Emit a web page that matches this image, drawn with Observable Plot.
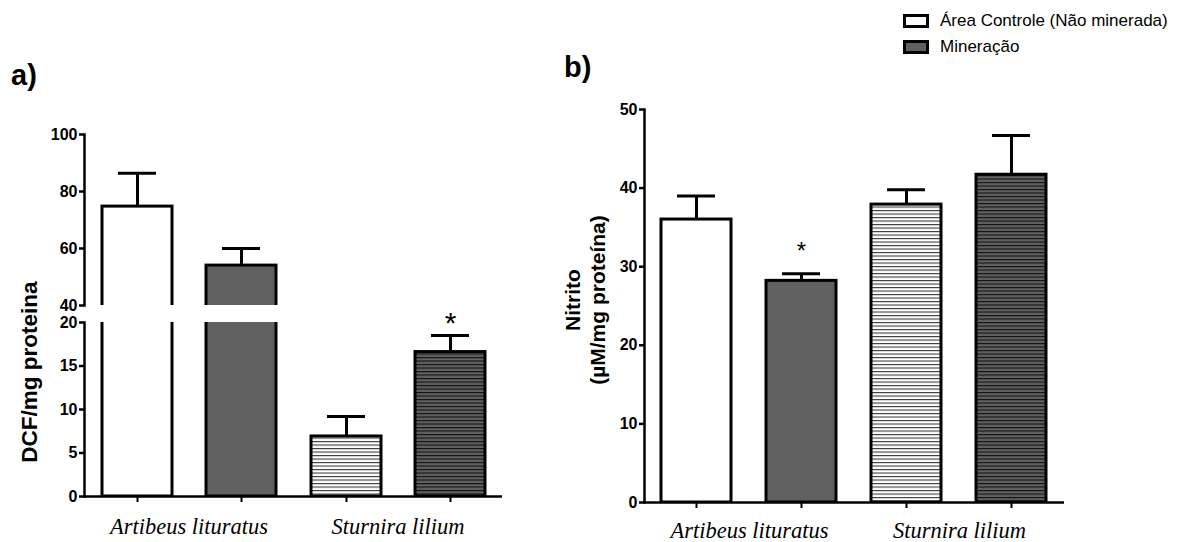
<!DOCTYPE html>
<html><head><meta charset="utf-8">
<script src="https://cdn.jsdelivr.net/npm/d3@7"></script>
<script src="https://cdn.jsdelivr.net/npm/@observablehq/plot@0.6"></script>
<style>
body{margin:0;background:#fff;}
#wrap{position:relative;width:1185px;height:542px;overflow:hidden;font-family:"Liberation Sans",Arial,sans-serif;color:#000;}
#wrap > svg{position:absolute;left:0;top:0;}
.lbl{position:absolute;white-space:nowrap;line-height:1;font-weight:bold;}
.ytitle{position:absolute;white-space:nowrap;line-height:1;font-weight:bold;font-size:21px;transform:translate(-50%,-50%) rotate(-90deg);}
.leg{position:absolute;white-space:nowrap;font-size:17px;line-height:1;display:flex;align-items:center;}
.leg .box{display:inline-block;width:20px;height:8px;border:3px solid #000;margin-right:11px;}
</style></head><body>
<div id="wrap">
<svg width="0" height="0" style="position:absolute">
<defs>
<pattern id="hatchWhite" patternUnits="userSpaceOnUse" width="10" height="3.5">
<rect width="10" height="3.5" fill="#ffffff"/><rect y="0" width="10" height="1.1" fill="#3a3a3a"/>
</pattern>
<pattern id="hatchGray" patternUnits="userSpaceOnUse" width="10" height="3.5">
<rect width="10" height="3.5" fill="#606060"/><rect y="0" width="10" height="1.1" fill="#111111"/>
</pattern>
</defs></svg>
</div>
<script>
// ---- data ----
const species = ["Artibeus lituratus", "Sturnira lilium"];
const treatments = ["Área Controle (Não minerada)", "Mineração"];
const dcfMean = [74.7, 54.0, 6.9, 16.6];
const dcfSem  = [11.7, 6.0, 2.3, 1.9];
const dcfSig  = ["", "", "", "*"];
const nitMean = [36.0, 28.2, 37.9, 41.7];
const nitSem  = [3.0, 0.9, 1.9, 5.0];
const nitSig  = ["", "*", "", ""];
const dcfUpperTicks = [40, 60, 80, 100];
const dcfLowerTicks = [0, 5, 10, 15, 20];
const nitTicks = [0, 10, 20, 30, 40, 50];

// ---- layout / style ----
const W = 1185, H = 542;
const fillRange = ["#ffffff", "#606060", "url(#hatchWhite)", "url(#hatchGray)"];
const sans = "'Liberation Sans', Arial, sans-serif";
const serif = "'Liberation Serif', 'Times New Roman', serif";

function rows(mean, sem, sig) {
  return mean.map((m, i) => ({
    species: species[Math.floor(i / 2)], treatment: treatments[i % 2],
    key: i, mean: m, top: m + sem[i], sig: sig[i]
  }));
}
const dcf = rows(dcfMean, dcfSem, dcfSig);
const nit = rows(nitMean, nitSem, nitSig);

function base(box, ydomain) {
  return {
    width: W, height: H,
    marginLeft: box.left, marginRight: W - box.right, marginTop: box.top, marginBottom: H - box.bottom,
    style: {background: "transparent", overflow: "visible", fontFamily: sans, color: "#000"},
    fx: {domain: species, padding: 0, axis: null},
    x: {domain: treatments, paddingInner: 0.33, paddingOuter: 0.165, axis: null},
    y: {domain: ydomain, axis: null},
    color: {type: "ordinal", domain: [0, 1, 2, 3], range: fillRange}
  };
}
const yAxis = (ticks) => [
  Plot.frame({anchor: "left", facetAnchor: "left", stroke: "#000", strokeWidth: 2.5}),
  Plot.axisY({ticks, tickSize: 5, tickPadding: 2, label: null,
    fontSize: 16, fontWeight: "bold", strokeWidth: 2.5, fill: "#000"})
];
const errMarks = (data, filter) => [
  Plot.ruleX(data, {filter, fx: "species", x: "treatment", y1: "mean", y2: "top", stroke: "#000", strokeWidth: 3}),
  Plot.tickY(data, {filter, fx: "species", x: "treatment", y: "top", stroke: "#000", strokeWidth: 3, insetLeft: 16, insetRight: 16})
];

const wrap = document.getElementById("wrap");

// Panel a – upper segment (40–100)
const aUp = [40, 100];
wrap.append(Plot.plot({
  ...base({left: 84, right: 502, top: 134, bottom: 305}, aUp),
  marks: [
    Plot.barY(dcf, {filter: d => d.mean > aUp[0], fx: "species", x: "treatment", y1: () => aUp[0] - 10, y2: "mean",
      fill: "key", stroke: "#000", strokeWidth: 3, clip: true}),
    ...errMarks(dcf, d => d.mean > aUp[0]),
    ...yAxis(dcfUpperTicks)
  ]
}));

// Panel a – lower segment (0–20)
const aLo = [0, 20];
wrap.append(Plot.plot({
  ...base({left: 84, right: 502, top: 322, bottom: 496}, aLo),
  marks: [
    Plot.barY(dcf, {fx: "species", x: "treatment", y1: 0, y2: d => Math.min(d.mean, aLo[1] + 5),
      fill: "key", stroke: "#000", strokeWidth: 3, clip: true}),
    ...errMarks(dcf, d => d.top <= aLo[1]),
    Plot.text(dcf, {filter: d => d.sig, fx: "species", x: "treatment", y: "top", text: "sig",
      dy: -12, fontSize: 30, lineAnchor: "middle", fill: "#000"}),
    ...yAxis(dcfLowerTicks),
    Plot.ruleY([0], {stroke: "#000", strokeWidth: 2.5}),
    Plot.axisX({tickSize: 6, tickFormat: () => "", label: null, strokeWidth: 2}),
    Plot.axisFx({anchor: "bottom", tickSize: 0, tickPadding: 22, label: null,
      fontFamily: serif, fontStyle: "italic", fontSize: 22.5, fill: "#000"})
  ]
}));

// Panel b (0–50)
wrap.append(Plot.plot({
  ...base({left: 643, right: 1064, top: 109, bottom: 502}, [0, 50]),
  marks: [
    Plot.barY(nit, {fx: "species", x: "treatment", y1: 0, y2: "mean",
      fill: "key", stroke: "#000", strokeWidth: 3, clip: true}),
    ...errMarks(nit, () => true),
    Plot.text(nit, {filter: d => d.sig, fx: "species", x: "treatment", y: "top", text: "sig",
      dy: -22, fontSize: 24, lineAnchor: "middle", fill: "#000"}),
    ...yAxis(nitTicks),
    Plot.ruleY([0], {stroke: "#000", strokeWidth: 2.5}),
    Plot.axisX({tickSize: 6, tickFormat: () => "", label: null, strokeWidth: 2}),
    Plot.axisFx({anchor: "bottom", tickSize: 0, tickPadding: 20, label: null,
      fontFamily: serif, fontStyle: "italic", fontSize: 22.5, fill: "#000"})
  ]
}));

// ---- text: panel letters, y titles, legend ----
const w = d3.select(wrap);
w.append("div").attr("class", "lbl").style("left", "11px").style("top", "61px").style("font-size", "29px").text("a)");
w.append("div").attr("class", "lbl").style("left", "564px").style("top", "53px").style("font-size", "29px").text("b)");
w.append("div").attr("class", "ytitle").style("left", "30px").style("top", "372px").style("font-size", "22.5px").text("DCF/mg proteina");
w.append("div").attr("class", "ytitle").style("left", "572px").style("top", "300px").text("Nitrito");
w.append("div").attr("class", "ytitle").style("left", "597px").style("top", "300px").text("(µM/mg proteína)");
const legFills = ["#ffffff", "#606060"];
treatments.forEach((t, i) => {
  const row = w.append("div").attr("class", "leg").style("left", "903px").style("top", (12 + i * 26) + "px");
  row.append("span").attr("class", "box").style("background", legFills[i]);
  row.append("span").text(t);
});
</script>
</body></html>
